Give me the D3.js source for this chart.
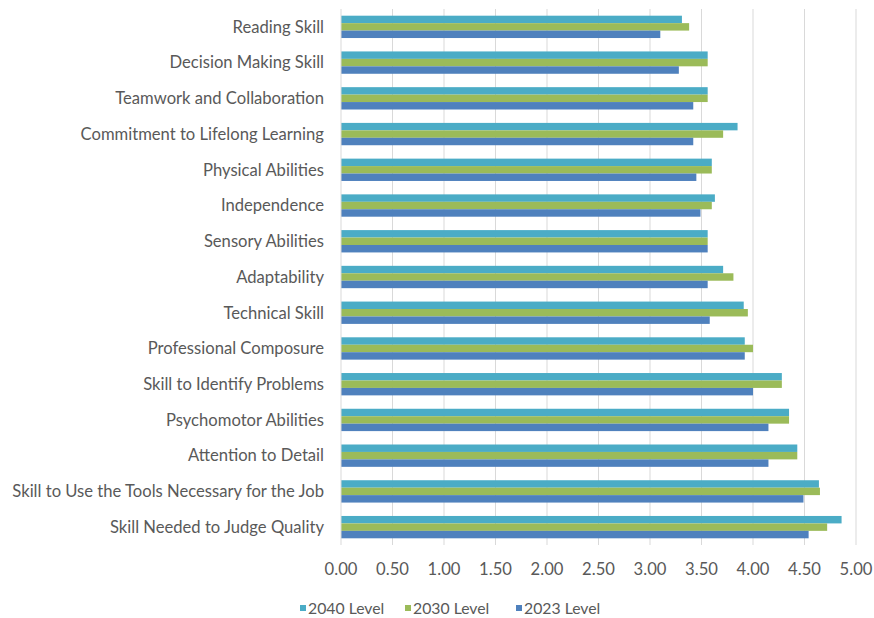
<!DOCTYPE html>
<html>
<head>
<meta charset="utf-8">
<script src="https://cdn.jsdelivr.net/npm/d3@7/dist/d3.min.js"></script>
<style>
  html, body { margin: 0; padding: 0; background: #ffffff; }
  svg { display: block; }
  text { font-family: Lato, "Open Sans", sans-serif; fill: #595959; }
</style>
</head>
<body>
<svg id="chart" width="874" height="618"></svg>
<script>
const categories = [
  "Reading Skill",
  "Decision Making Skill",
  "Teamwork and Collaboration",
  "Commitment to Lifelong Learning",
  "Physical Abilities",
  "Independence",
  "Sensory Abilities",
  "Adaptability",
  "Technical Skill",
  "Professional Composure",
  "Skill to Identify Problems",
  "Psychomotor Abilities",
  "Attention to Detail",
  "Skill to Use the Tools Necessary for the Job",
  "Skill Needed to Judge Quality"
];
const seriesNames = ["2040 Level", "2030 Level", "2023 Level"];
const level2040 = [3.31, 3.56, 3.56, 3.85, 3.60, 3.63, 3.56, 3.71, 3.91, 3.92, 4.28, 4.35, 4.43, 4.64, 4.86];
const level2030 = [3.38, 3.56, 3.56, 3.71, 3.60, 3.60, 3.56, 3.81, 3.95, 4.00, 4.28, 4.35, 4.43, 4.65, 4.72];
const level2023 = [3.10, 3.28, 3.42, 3.42, 3.45, 3.49, 3.56, 3.56, 3.58, 3.92, 4.00, 4.15, 4.15, 4.49, 4.54];
const seriesColors = ["#4BACC6", "#9BBB59", "#4F81BD"];
const tickValues = [0, 0.5, 1, 1.5, 2, 2.5, 3, 3.5, 4, 4.5, 5];

const seriesValues = [level2040, level2030, level2023];

const svg = d3.select("#chart");
const plot = { left: 341, right: 856, top: 9, bottom: 545 };

const x = d3.scaleLinear().domain([0, 5]).range([plot.left, plot.right]);
const y = d3.scaleBand().domain(categories).range([plot.top, plot.bottom])
  .paddingInner(0.375).paddingOuter(0.1875);
const ySub = d3.scaleBand().domain(seriesNames).range([0, y.bandwidth()]);

// gridlines
svg.append("g").selectAll("line").data(tickValues.slice(1)).join("line")
  .attr("x1", d => x(d)).attr("x2", d => x(d))
  .attr("y1", plot.top).attr("y2", plot.bottom)
  .attr("stroke", "#d9d9d9").attr("stroke-width", 1);

// bars
const groups = svg.append("g").selectAll("g").data(categories).join("g")
  .attr("transform", d => `translate(0,${y(d)})`);
groups.selectAll("rect")
  .data((c, i) => seriesNames.map((s, j) => ({ s, j, v: seriesValues[j][i] })))
  .join("rect")
  .attr("x", x(0))
  .attr("y", d => ySub(d.s))
  .attr("width", d => x(d.v) - x(0))
  .attr("height", ySub.bandwidth())
  .attr("fill", d => seriesColors[d.j]);

// category axis line
svg.append("line")
  .attr("x1", x(0)).attr("x2", x(0))
  .attr("y1", plot.top).attr("y2", plot.bottom)
  .attr("stroke", "#d9d9d9").attr("stroke-width", 1);

// category labels
const catLabels = svg.append("g").selectAll("text").data(categories).join("text")
  .attr("x", 324)
  .attr("y", d => y(d) + y.bandwidth() / 2)
  .attr("dy", "0.35em")
  .attr("text-anchor", "end")
  .attr("font-size", 16)
  .text(d => d);
// fit font so the longest label spans about 312px, like the reference
const longest = d3.max(catLabels.nodes(), n => n.getComputedTextLength());
const labelSize = Math.min(18, 16 * 312 / longest);
catLabels.attr("font-size", labelSize);

// value axis labels
svg.append("g").selectAll("text").data(tickValues).join("text")
  .attr("x", d => x(d))
  .attr("y", 569)
  .attr("dy", "0.35em")
  .attr("text-anchor", "middle")
  .attr("font-size", labelSize)
  .text(d => d3.format(".2f")(d));

// legend
const legendX = [300, 405, 516];
const legend = svg.append("g").selectAll("g").data(seriesNames).join("g")
  .attr("transform", (d, i) => `translate(${legendX[i]},608)`);
legend.append("rect")
  .attr("x", 0).attr("y", -3).attr("width", 6).attr("height", 6)
  .attr("fill", (d, i) => seriesColors[i]);
legend.append("text")
  .attr("x", 8).attr("y", 0).attr("dy", "0.35em")
  .attr("font-size", labelSize * 0.95)
  .text(d => d);
</script>
</body>
</html>
